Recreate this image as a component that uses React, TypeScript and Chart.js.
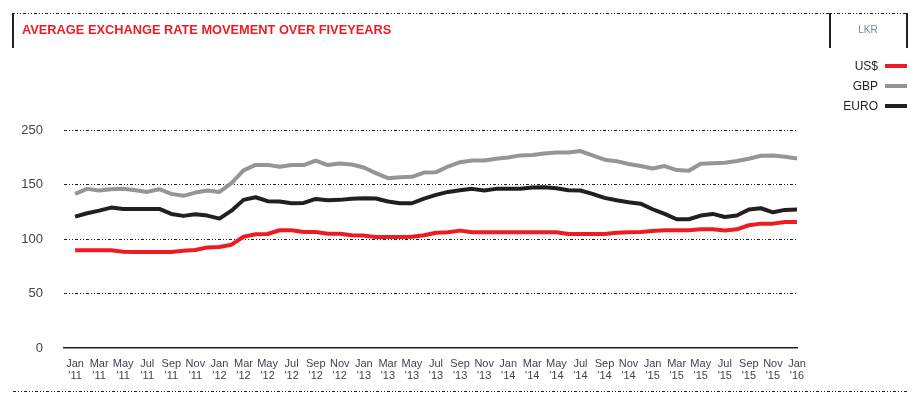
import React, { useEffect, useRef } from "react";
import { Chart, registerables } from "chart.js";

Chart.register(...registerables);

const monthLabels = ["Jan","Mar","May","Jul","Sep","Nov","Jan","Mar","May","Jul","Sep","Nov","Jan","Mar","May","Jul","Sep","Nov","Jan","Mar","May","Jul","Sep","Nov","Jan","Mar","May","Jul","Sep","Nov","Jan"];
const yearLabels = ["'11","'11","'11","'11","'11","'11","'12","'12","'12","'12","'12","'12","'13","'13","'13","'13","'13","'13","'14","'14","'14","'14","'14","'14","'15","'15","'15","'15","'15","'15","'16"];
const yTickLabels = ["0", "50", "100", "150", "250"];

const usd = [89.6,89.6,89.6,89.6,88.3,88,88,88,88,89.3,89.9,92.3,92.6,94.8,102.1,104.3,104.6,108,108,106.4,106.4,104.9,104.9,103.5,103.1,101.8,101.8,101.8,102.1,103.4,105.8,106.1,107.7,106.1,106.1,106.1,106.1,106.1,106.1,106.1,106.1,104.6,104.6,104.6,104.6,105.8,106.1,106.4,107.4,108,108,108,108.9,108.9,107.7,108.9,112.6,114.1,114.1,115.6,115.6];
const gbp = [141.4,146,144.5,145.7,146,144.8,143.2,145.7,141.4,139.6,142.6,144.5,143.2,151.2,162.9,168,168,166.2,167.8,167.8,172,167.8,169.3,168.4,165.6,160.4,155.8,156.7,157,161,161.3,166.5,170.5,172,172,173.6,174.8,176.7,177,178.5,179.4,179.4,180.7,176.7,172.8,171.4,168.8,167,164.7,166.9,163.2,162.6,169,169.6,169.9,171.5,173.6,176.4,176.7,175.5,173.9];
const euro = [120.5,123.6,126,128.8,127.6,127.6,127.6,127.6,123,121.2,122.7,121.5,118.7,126,135.9,138.3,134.7,134.4,132.8,133.1,136.8,135.6,135.9,137,137.4,137.1,134.4,132.8,132.8,137.1,140.5,143.2,144.8,146,144.5,146,146,146,147.2,147.5,146.6,144.8,144.5,141.4,137.7,135.5,133.8,132.4,127.3,123,118.1,118.1,121.5,123,120.2,121.5,127,128.2,124.5,126.7,127];

const seriesNames = ["US$", "GBP", "EURO"];
const seriesColors = ["#ed1c24", "#939598", "#231f20"];

const dashPattern =
  "repeating-linear-gradient(to right, #231f20 0 3px, transparent 3px 5px, #231f20 5px 6px, transparent 6px 8px, #231f20 8px 9px, transparent 9px 11px)";

export default function App() {
  const ref = useRef<HTMLCanvasElement | null>(null);

  useEffect(() => {
    if (!ref.current) return;
    const seriesData = [usd, gbp, euro];
    const chart = new Chart(ref.current, {
      type: "line",
      data: {
        datasets: seriesData.map((arr, s) => ({
          label: seriesNames[s],
          data: arr.map((v, i) => ({ x: i, y: v })),
          borderColor: seriesColors[s],
          backgroundColor: seriesColors[s],
          borderWidth: 4,
          pointRadius: 0,
          tension: 0,
          borderJoinStyle: "round" as const,
          fill: false,
        })),
      },
      options: {
        animation: false,
        responsive: false,
        devicePixelRatio: 1,
        layout: { padding: { top: 130, right: 123, left: 0, bottom: 0 } },
        plugins: { legend: { display: false }, tooltip: { enabled: false }, title: { display: false } },
        scales: {
          x: {
            type: "linear",
            min: -0.92,
            max: 60,
            afterBuildTicks: (scale: any) => {
              scale.ticks = monthLabels.map((_, k) => ({ value: k * 2 }));
            },
            afterFit: (scale: any) => {
              scale.height = 65;
            },
            grid: { display: false, drawTicks: false },
            border: { display: true, color: "#231f20", width: 1.5 },
            ticks: {
              autoSkip: false,
              maxRotation: 0,
              minRotation: 0,
              padding: 10,
              color: "#3d4452",
              font: { family: "Arial, 'Liberation Sans', sans-serif", size: 11, lineHeight: 1.07 },
              callback: (_v: any, index: number) => [monthLabels[index], yearLabels[index]],
            },
          },
          y: {
            min: 0,
            max: 200,
            afterFit: (scale: any) => {
              scale.width = 64;
            },
            grid: {
              color: (ctx: any) => (ctx.tick && ctx.tick.value === 0 ? "rgba(0,0,0,0)" : "#231f20"),
              lineWidth: 1,
              drawTicks: false,
            },
            border: { display: false, dash: [3, 2, 1, 2, 1, 2] },
            ticks: {
              stepSize: 50,
              padding: 21,
              color: "#3d4452",
              font: { family: "Arial, 'Liberation Sans', sans-serif", size: 13 },
              callback: (_v: any, index: number) => yTickLabels[index],
            },
          },
        },
      },
    });
    return () => chart.destroy();
  }, []);

  const font = "Arial, 'Liberation Sans', sans-serif";

  return (
    <div style={{ position: "absolute", left: 0, top: 0, width: 920, height: 413, background: "#fff", fontFamily: font }}>
      <canvas ref={ref} width={920} height={413} style={{ position: "absolute", left: 0, top: 0, width: 920, height: 413 }} />
      {/* header frame */}
      <div style={{ position: "absolute", left: 12, top: 13, width: 895, height: 1, backgroundImage: dashPattern }} />
      <div style={{ position: "absolute", left: 12, top: 13, width: 1.5, height: 35, background: "#231f20" }} />
      <div style={{ position: "absolute", left: 829, top: 13, width: 1.5, height: 35, background: "#231f20" }} />
      <div style={{ position: "absolute", left: 906, top: 13, width: 1.5, height: 35, background: "#231f20" }} />
      <div style={{ position: "absolute", left: 22, top: 22, height: 16, lineHeight: "16px", fontSize: 12.8, fontWeight: "bold", color: "#ed1c24", whiteSpace: "nowrap" }}>
        AVERAGE EXCHANGE RATE MOVEMENT OVER FIVEYEARS
      </div>
      <div style={{ position: "absolute", left: 830, width: 76, top: 23, height: 14, lineHeight: "14px", fontSize: 10, color: "#7b8594", textAlign: "center" }}>
        LKR
      </div>
      {/* legend */}
      {seriesNames.map((n, s) => (
        <div key={n} style={{ position: "absolute", left: 780, width: 127, top: 58 + s * 20, height: 16, display: "flex", alignItems: "center", justifyContent: "flex-end" }}>
          <span style={{ fontSize: 12, color: "#231f20", lineHeight: "16px", marginRight: 7 }}>{n}</span>
          <span style={{ display: "inline-block", width: 22, height: 4, background: seriesColors[s] }} />
        </div>
      ))}
      {/* bottom rule */}
      <div style={{ position: "absolute", left: 13, top: 391, width: 894, height: 1, backgroundImage: dashPattern }} />
    </div>
  );
}
